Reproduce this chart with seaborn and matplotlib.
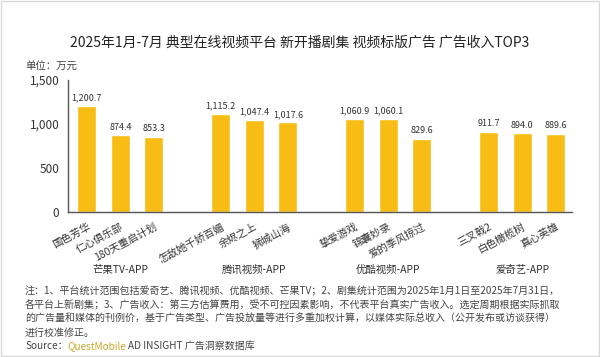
import numpy as np
import pandas as pd
import seaborn as sns
import matplotlib.pyplot as plt
from matplotlib.patches import Rectangle

# datos (万元)
platforms = ['芒果TV-APP', '腾讯视频-APP', '优酷视频-APP', '爱奇艺-APP']
dramas = ['国色芳华', '仁心俱乐部', '180天重启计划',
          '怎敌她千娇百媚', '余烬之上', '狮城山海',
          '挚爱游戏', '锦囊妙录', '爱的季风掠过',
          '三叉戟2', '白色橄榄树', '真心英雄']
revenue = [1200.7, 874.4, 853.3,
           1115.2, 1047.4, 1017.6,
           1060.9, 1060.1, 829.6,
           911.7, 894.0, 889.6]
yticks = [0, 500, 1000, 1500]
ytick_labels = ['0', '500', '1,000', '1,500']

notes = [
    '注：1、平台统计范围包括爱奇艺、腾讯视频、优酷视频、芒果TV；2、剧集统计范围为2025年1月1日至2025年7月31日，',
    '各平台上新剧集；3、广告收入：第三方估算费用，受不可控因素影响，不代表平台真实广告收入。选定周期根据实际抓取',
    '的广告量和媒体的刊例价，基于广告类型、广告投放量等进行多重加权计算，以媒体实际总收入（公开发布或访谈获得）',
    '进行校准修正。',
]

df = pd.DataFrame({'drama': dramas, 'revenue': revenue})
df['platform'] = np.repeat(platforms, 3)
# posicion: 3 barras por grupo + un hueco
df['pos'] = [g * 4 + i for g in range(4) for i in range(3)]

sns.set_style('white')
plt.rcParams['font.family'] = ['Noto Sans CJK SC', 'DejaVu Sans']

fig = plt.figure(figsize=(6, 3.57), dpi=100)
ax = fig.add_axes([0.113, 0.406, 0.84, 0.37])

sns.barplot(data=df, x='pos', y='revenue', native_scale=True, width=0.57,
            color='#F8BD14', saturation=1, ax=ax)

for _, r in df.iterrows():
    ax.text(r['pos'], r['revenue'] + 40, f"{r['revenue']:,.1f}", ha='center', va='bottom',
            fontsize=6.5, color='#333333')

ax.set_xlim(-0.57, 14.48)
ax.set_ylim(0, 1500)
ax.set_yticks(yticks)
ax.set_yticklabels(ytick_labels, fontsize=8.5, color='#333333')
ax.set_xticks(df['pos'])
ax.set_xticklabels(df['drama'], rotation=28, ha='right', rotation_mode='anchor',
                   fontsize=7.5, color='#333333')
ax.tick_params(axis='both', length=0)
ax.tick_params(axis='x', pad=7)
ax.tick_params(axis='y', pad=6)
ax.set_xlabel('')
ax.set_ylabel('')
for s in ['top', 'right']:
    ax.spines[s].set_visible(False)
for s in ['left', 'bottom']:
    ax.spines[s].set_color('#555555')
    ax.spines[s].set_linewidth(1)

# nombres de plataforma debajo de cada grupo
trans = ax.get_xaxis_transform()
for g, p in enumerate(platforms):
    ax.text(g * 4 + 1, -0.44, p, transform=trans, ha='center', va='center',
            fontsize=7.5, color='#333333')

fig.text(0.5, 0.88, '2025年1月-7月 典型在线视频平台 新开播剧集 视频标版广告 广告收入TOP3',
         ha='center', va='center', fontsize=10, fontweight='medium', color='#222222')
fig.text(0.042, 0.812, '单位：万元', ha='left', va='center', fontsize=7.5, color='#444444')

ys = [291, 305, 319, 333]
for y, t in zip(ys, notes):
    fig.text(25 / 600, 1 - y / 357, t, ha='left', va='center', fontsize=7.2, color='#444444')

fig.text(25 / 600, 1 - 346 / 357, 'Source：', ha='left', va='center', fontsize=7.2, color='#444444')
fig.text(67 / 600, 1 - 346 / 357, 'QuestMobile', ha='left', va='center', fontsize=7.2, color='#C8A62C')
fig.text(128 / 600, 1 - 346 / 357, 'AD INSIGHT 广告洞察数据库', ha='left', va='center',
         fontsize=7.2, color='#444444')

fig.patches.append(Rectangle((0.002, 0.003), 0.996, 0.994, transform=fig.transFigure,
                             fill=False, edgecolor='#d9d9d9', linewidth=1))

fig.savefig('out.png', dpi=100, facecolor='white')
